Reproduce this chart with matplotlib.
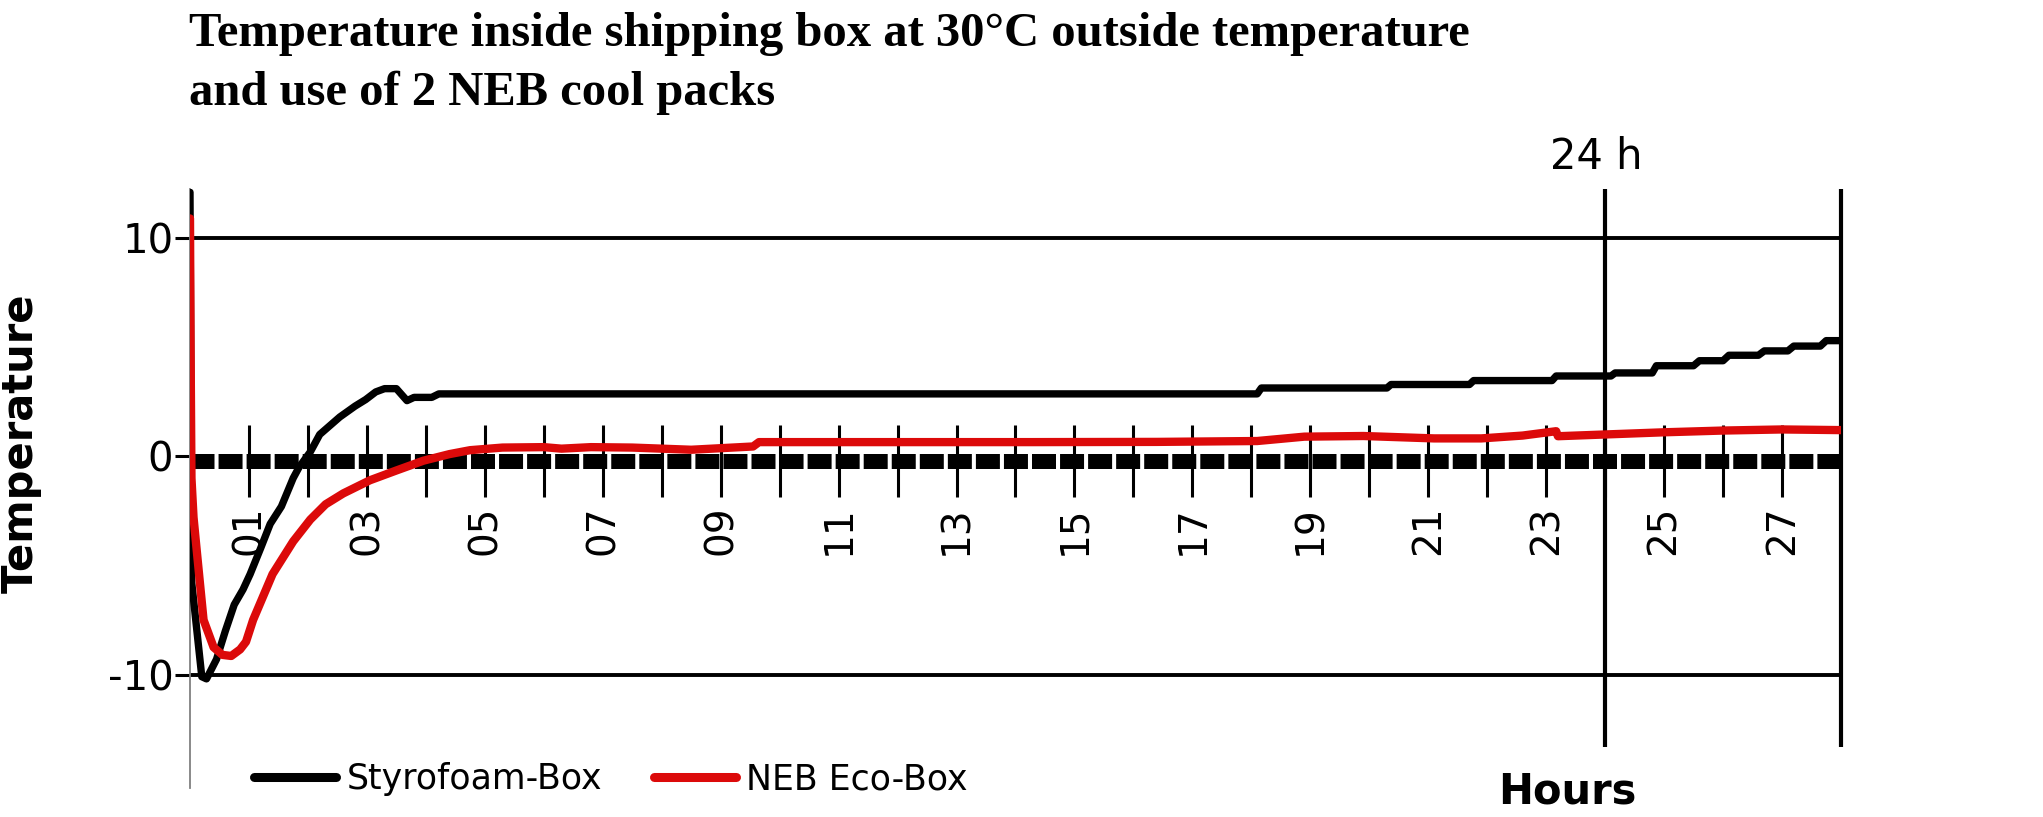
import numpy as np
import matplotlib
matplotlib.use('Agg')
import matplotlib.pyplot as plt

# Styrofoam-Box: hours since start / temperature in °C
styro_hours = [0.0, 0.03, 0.2, 0.28, 0.45, 0.6, 0.75, 0.9, 1.02, 1.2, 1.36, 1.55,
               1.75, 1.85, 2.04, 2.2, 2.54, 2.8, 2.98, 3.15, 3.3, 3.5, 3.68, 3.8,
               4.1, 4.22, 18.1, 18.17, 20.3, 20.37, 21.7, 21.77, 23.1, 23.17,
               24.1, 24.17, 24.8, 24.87, 25.5, 25.6, 26.0, 26.1, 26.6, 26.7,
               27.1, 27.2, 27.65, 27.75, 28.0]
styro_temp = [12.1, -5.8, -10.1, -10.2, -9.3, -8.0, -6.8, -6.1, -5.4, -4.2, -3.1, -2.3,
              -1.0, -0.5, 0.2, 1.0, 1.8, 2.3, 2.6, 2.95, 3.1, 3.1, 2.55, 2.7,
              2.7, 2.86, 2.86, 3.13, 3.13, 3.29, 3.29, 3.47, 3.47, 3.68,
              3.68, 3.82, 3.82, 4.15, 4.15, 4.38, 4.38, 4.63, 4.63, 4.83,
              4.83, 5.05, 5.05, 5.3, 5.3]

# NEB Eco-Box
neb_hours = [0.0, 0.01, 0.025, 0.06, 0.11, 0.23, 0.4, 0.55, 0.7, 0.85, 0.95, 1.07,
             1.4, 1.75, 2.04, 2.3, 2.6, 3.05, 3.5, 3.96, 4.4, 4.75, 5.3, 6.0,
             6.3, 6.8, 7.5, 8.5, 9.55, 9.65, 14.3, 16.4, 18.1, 18.9, 19.9, 21.1,
             21.9, 22.6, 23.17, 23.2, 24.0, 25.0, 26.0, 27.0, 28.0]
neb_temp = [10.9, 5.0, -1.0, -2.8, -4.2, -7.5, -8.75, -9.1, -9.15, -8.85, -8.5, -7.5,
            -5.4, -3.9, -2.9, -2.2, -1.7, -1.1, -0.65, -0.2, 0.1, 0.28, 0.4, 0.42,
            0.35, 0.42, 0.4, 0.3, 0.45, 0.65, 0.65, 0.66, 0.7, 0.9, 0.93, 0.82,
            0.82, 0.95, 1.15, 0.92, 1.0, 1.1, 1.18, 1.23, 1.2]

hour_ticks = list(range(1, 28))
hour_labels = ['%02d' % h if h % 2 else '' for h in hour_ticks]
temp_ticks = [-10, 0, 10]
temp_labels = ['-10', '0', '10']
marker_hours = [24, 28]

fig = plt.figure(figsize=(20.43, 8.17), dpi=100)
ax = fig.add_axes([0.093, 0.0355, 0.8081, 0.7332])

ax.plot(styro_hours, styro_temp, color='black', lw=5.3, solid_joinstyle='round',
        solid_capstyle='round', label='Styrofoam-Box', zorder=3)
ax.plot(neb_hours, neb_temp, color='#dc0a0a', lw=6.0, solid_joinstyle='round',
        solid_capstyle='round', label='NEB Eco-Box', zorder=4)

ax.set_xlim(0, 28)
ax.set_ylim(-15.2, 12.25)

# grid lines, the dashed zero band and the 24 h / end markers
for t in (-10, 10):
    ax.axhline(t, color='black', lw=2.8, zorder=1)
ax.axhline(-0.22, color='black', lw=10.8, dashes=(1.6, 0.27), zorder=2)
ax.vlines(marker_hours, -13.3, 12.25, colors='black', lw=3, clip_on=False, zorder=2)

ax.spines['top'].set_visible(False)
ax.spines['right'].set_visible(False)
ax.spines['left'].set_color('#808080')
ax.spines['left'].set_linewidth(1.3)
ax.spines['bottom'].set_position(('data', -0.22))
ax.spines['bottom'].set_linewidth(0)

ax.set_xticks(hour_ticks)
ax.set_xticklabels(hour_labels, rotation=90)
ax.tick_params(axis='x', direction='inout', length=52, width=2.2, pad=6, labelsize=28)
ax.set_yticks(temp_ticks)
ax.set_yticklabels(temp_labels)
ax.tick_params(axis='y', direction='out', length=11, width=2.2, pad=1,
               labelsize=29, color='black')

ax.text(23.85, 13.17, '24 h', fontsize=30, ha='center', va='baseline')

ax.set_ylabel('Temperature', fontsize=30, fontweight='bold')
ax.yaxis.set_label_coords(-0.0896, 0.576)
ax.set_xlabel('Hours', fontsize=30, fontweight='bold')
ax.xaxis.set_label_coords(0.834, 0.0284)

leg = ax.legend(loc='center left', bbox_to_anchor=(0.1243, 0.0465),
                bbox_transform=fig.transFigure, ncol=2, frameon=False, fontsize=25,
                handlelength=2.36, handletextpad=0.3, columnspacing=1.5,
                borderaxespad=0, borderpad=0)
for line in leg.get_lines():
    line.set_linewidth(6.5)
    line.set_solid_capstyle('round')

fig.text(189 / 2043, 1 - 12 / 817,
         'Temperature inside shipping box at 30°C outside temperature\n'
         'and use of 2 NEB cool packs',
         family=['Liberation Serif', 'DejaVu Serif'], fontweight='bold', fontsize=35,
         ha='left', va='top', linespacing=1.42)

fig.savefig('out.png', dpi=100)
